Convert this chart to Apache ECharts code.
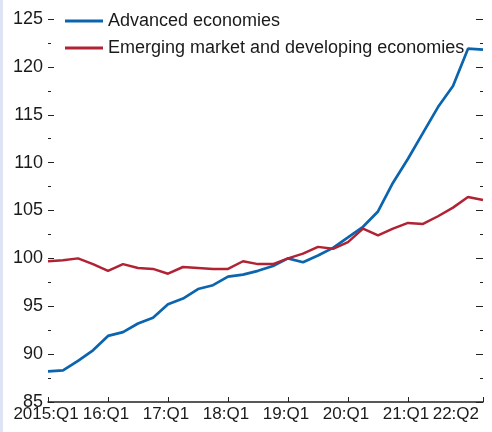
<!DOCTYPE html>
<html>
<head>
<meta charset="utf-8">
<script src="https://cdn.jsdelivr.net/npm/echarts@6/dist/echarts.min.js"></script>
<style>
  html, body { margin: 0; padding: 0; background: #fff; }
  #chart { width: 492px; height: 432px; }
</style>
</head>
<body>
<div id="chart"></div>
<script>
// quarters 2015:Q1 .. 2022:Q2
var quarters = [];
for (var y = 2015; y <= 2022; y++) {
  for (var q = 1; q <= 4; q++) {
    if (y === 2022 && q > 2) break;
    quarters.push(y + ':Q' + q);
  }
}
var tickLabels = {
  '2015:Q1': '2015:Q1', '2016:Q1': '16:Q1', '2017:Q1': '17:Q1', '2018:Q1': '18:Q1',
  '2019:Q1': '19:Q1', '2020:Q1': '20:Q1', '2021:Q1': '21:Q1', '2022:Q2': '22:Q2'
};
var advanced = [88.2, 88.3, 89.3, 90.4, 91.9, 92.3, 93.2, 93.8, 95.2, 95.8,
  96.8, 97.2, 98.1, 98.3, 98.7, 99.2, 100.0, 99.6, 100.3, 101.1,
  102.2, 103.3, 104.9, 107.9, 110.4, 113.1, 115.8, 118.0, 121.9, 121.8];
var emerging = [99.7, 99.8, 100.0, 99.4, 98.7, 99.4, 99.0, 98.9, 98.4, 99.1,
  99.0, 98.9, 98.9, 99.7, 99.4, 99.4, 100.0, 100.5, 101.2, 101.0,
  101.7, 103.1, 102.4, 103.1, 103.7, 103.6, 104.4, 105.3, 106.4, 106.1];

var font = '"Liberation Sans", Arial, sans-serif';
var showTick = function (idx, val) { return !!tickLabels[val]; };

var myChart = echarts.init(document.getElementById('chart'));
var option = {
  animation: false,
  textStyle: { fontFamily: font },
  graphic: [{
    type: 'rect', left: 0, top: 0,
    shape: { width: 3, height: 432 },
    style: { fill: '#dfe4f4' }
  }],
  grid: { left: 48, right: 9, top: 19, bottom: 30 },
  legend: {
    left: 65, top: 11, orient: 'vertical', padding: 0,
    icon: 'rect',
    itemWidth: 38, itemHeight: 3, itemGap: 7,
    textStyle: { fontSize: 18, color: '#1a1a1a', fontFamily: font, lineHeight: 20 },
    data: ['Advanced economies', 'Emerging market and developing economies']
  },
  xAxis: {
    type: 'category',
    boundaryGap: false,
    data: quarters,
    axisLine: { lineStyle: { color: '#222', width: 1.5 } },
    axisTick: { inside: true, length: 5, interval: showTick, lineStyle: { color: '#222' } },
    axisLabel: {
      interval: showTick,
      showMinLabel: true, showMaxLabel: true,
      formatter: function (v) { return tickLabels[v] || ''; },
      fontSize: 17, color: '#1a1a1a', margin: 4, fontFamily: font,
      padding: [0, 4, 0, 0],
      alignMaxLabel: 'right'
    },
    splitLine: { show: false }
  },
  yAxis: [{
    type: 'value', min: 85, max: 125, interval: 5,
    axisLine: { show: false },
    axisTick: { show: true, inside: true, length: 6, lineStyle: { color: '#222' } },
    minorTick: { show: true, splitNumber: 2, length: 3, lineStyle: { color: '#222' } },
    axisLabel: { fontSize: 18, color: '#1a1a1a', margin: 5, fontFamily: font },
    splitLine: { show: false }
  }, {
    type: 'value', min: 85, max: 125, interval: 5, position: 'right',
    axisLine: { show: false },
    axisTick: { show: true, inside: true, length: 7, lineStyle: { color: '#222' } },
    minorTick: { show: true, splitNumber: 2, length: 3, lineStyle: { color: '#222' } },
    axisLabel: { show: false },
    splitLine: { show: false }
  }],
  series: [{
    name: 'Advanced economies',
    type: 'line', symbol: 'none',
    data: advanced,
    lineStyle: { color: '#0b64ae', width: 2.7 },
    itemStyle: { color: '#0b64ae' }
  }, {
    name: 'Emerging market and developing economies',
    type: 'line', symbol: 'none',
    data: emerging,
    lineStyle: { color: '#b12234', width: 2.5 },
    itemStyle: { color: '#b12234' }
  }]
};
myChart.setOption(option);
</script>
</body>
</html>
